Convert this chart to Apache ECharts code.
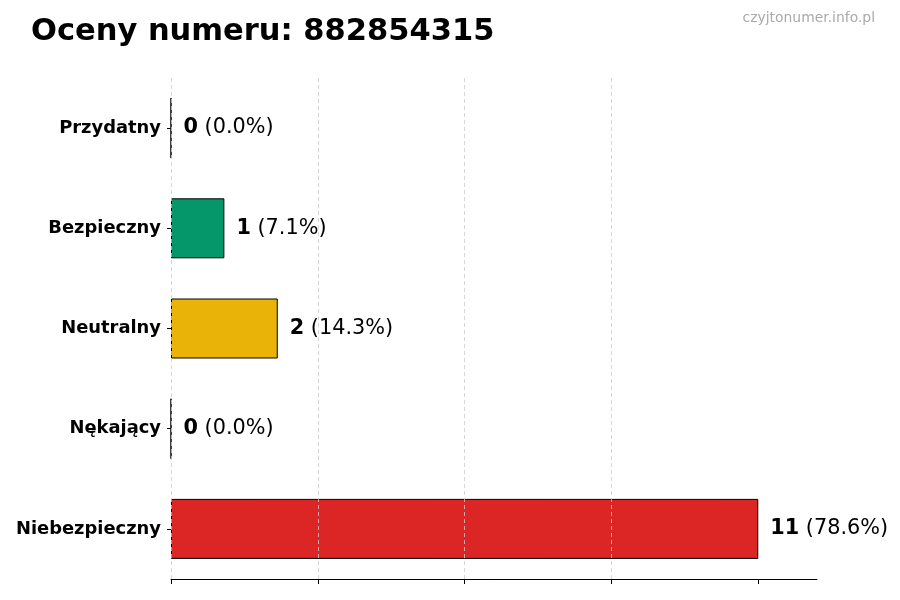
<!DOCTYPE html>
<html>
<head>
<meta charset="utf-8">
<script src="https://cdn.jsdelivr.net/npm/echarts@6/dist/echarts.min.js"></script>
<style>html,body{margin:0;padding:0;background:#fff;}#c{width:900px;height:600px;}</style>
</head>
<body>
<div id="c"></div>
<script>
const categories = ['Przydatny', 'Bezpieczny', 'Neutralny', 'Nękający', 'Niebezpieczny'];
const values = [0, 1, 2, 0, 11];
const percents = ['0.0%', '7.1%', '14.3%', '0.0%', '78.6%'];
const colors = ['#6b7280', '#059669', '#eab308', '#f97316', '#dc2626'];
const titleText = 'Oceny numeru: 882854315';
const watermark = 'czyjtonumer.info.pl';

const chart = echarts.init(document.getElementById('c'));
const FONT = 'DejaVu Sans';
chart.setOption({
  backgroundColor: '#fff',
  animation: false,
  textStyle: { fontFamily: FONT },
  title: [
    { text: titleText, left: 26, top: 12, textStyle: { fontFamily: FONT, fontSize: 30.5, fontWeight: 'bold', color: '#000' } },
    { text: watermark, right: 20, top: 6, textStyle: { fontFamily: FONT, fontSize: 13.9, fontWeight: 'normal', color: '#aaaaaa' } }
  ],
  grid: { left: 171, right: 83, top: 78, bottom: 21, containLabel: false },
  xAxis: {
    type: 'value', min: 0, max: 12.1, interval: 2.75,
    axisLine: { show: true, lineStyle: { color: '#000', width: 1 } },
    axisTick: { show: true, length: 5, inside: false, lineStyle: { color: '#000' }, customValues: [0, 2.75, 5.5, 8.25, 11] },
    axisLabel: { show: false },
    splitLine: { show: true, showMaxLine: false, lineStyle: { color: '#cccccc', type: [4, 3], width: 0.8 } }
  },
  yAxis: {
    type: 'category', data: categories, inverse: true,
    axisLine: { show: false },
    axisTick: { show: true, alignWithLabel: true, length: 4, lineStyle: { color: '#000' } },
    axisLabel: { margin: 10, fontFamily: FONT, fontSize: 17.9, fontWeight: 'bold', color: '#000' }
  },
  series: [{
    type: 'bar',
    z: -1,
    barWidth: 60,
    data: values.map((v, i) => ({ value: v, itemStyle: { color: colors[i] } })),
    itemStyle: { borderColor: '#000', borderWidth: 1 },
    label: {
      show: true, position: 'right', distance: 12,
      formatter: p => '{b|' + values[p.dataIndex] + '}{n| (' + percents[p.dataIndex] + ')}',
      rich: {
        b: { fontFamily: FONT, fontSize: 20.8, fontWeight: 'bold', color: '#000' },
        n: { fontFamily: FONT, fontSize: 20.8, fontWeight: 'normal', color: '#000' }
      }
    }
  }]
});
</script>
</body>
</html>
